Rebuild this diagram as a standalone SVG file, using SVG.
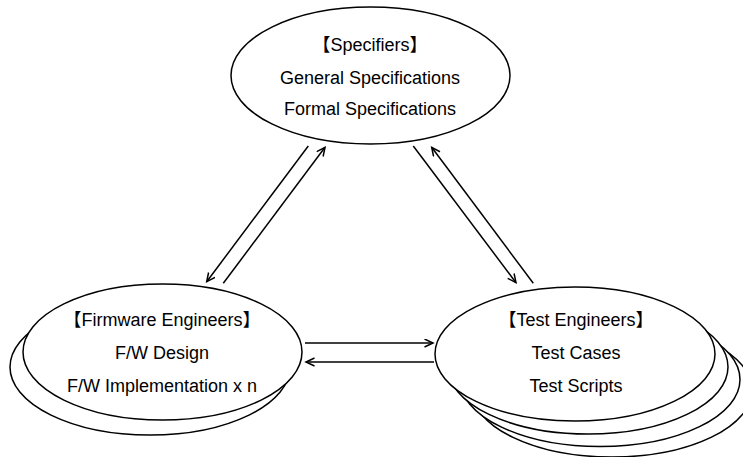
<svg xmlns="http://www.w3.org/2000/svg" width="743" height="457" viewBox="0 0 743 457">
  <style>
    .shape { fill: #ffffff; stroke: #000000; stroke-width: 1.5; }
    .label { font-family: "Liberation Sans", "Noto Sans CJK JP", Arial, sans-serif; font-size: 18px; fill: #000000; text-anchor: middle; }
    .link { fill: none; stroke: #000000; stroke-width: 1.5; marker-end: url(#open-arrow); }
  </style>
  <defs>
    <marker id="open-arrow" markerUnits="userSpaceOnUse" markerWidth="12" markerHeight="12" refX="9" refY="4.5" orient="auto">
      <path d="M0.5,0.5 L9,4.5 L0.5,8.5" fill="none" stroke="#000000" stroke-width="1.5" stroke-linejoin="miter"/>
    </marker>
  </defs>

  <rect width="743" height="457" fill="#ffffff"/>

  <!-- Specifiers -->
  <g id="specifiers">
    <ellipse class="shape" cx="370.5" cy="75.5" rx="139.5" ry="68.5"/>
    <text class="label" x="370" y="51">【Specifiers】</text>
    <text class="label" x="370" y="84">General Specifications</text>
    <text class="label" x="370" y="115">Formal Specifications</text>
  </g>

  <!-- Firmware engineers: stacked pair -->
  <g id="firmware-engineers">
    <ellipse class="shape" cx="150" cy="367" rx="140" ry="68"/>
    <ellipse class="shape" cx="162.5" cy="352" rx="139.5" ry="68"/>
    <text class="label" x="162" y="326">【Firmware Engineers】</text>
    <text class="label" x="162" y="359">F/W Design</text>
    <text class="label" x="162" y="392">F/W Implementation x n</text>
  </g>

  <!-- Test engineers: stacked group -->
  <g id="test-engineers">
    <ellipse class="shape" cx="612" cy="390" rx="140" ry="67"/>
    <ellipse class="shape" cx="600" cy="379.5" rx="140" ry="67"/>
    <ellipse class="shape" cx="588" cy="367" rx="140" ry="67"/>
    <ellipse class="shape" cx="575" cy="354" rx="140" ry="67"/>
    <text class="label" x="576" y="326">【Test Engineers】</text>
    <text class="label" x="576" y="359">Test Cases</text>
    <text class="label" x="576" y="392">Test Scripts</text>
  </g>

  <!-- Connectors -->
  <g id="connectors">
    <line class="link" x1="308.3" y1="146" x2="206.7" y2="281.7"/>
    <line class="link" x1="223.3" y1="283.3" x2="325" y2="147.3"/>
    <line class="link" x1="413.3" y1="146" x2="516" y2="282.7"/>
    <line class="link" x1="533.3" y1="283.3" x2="431.7" y2="147.3"/>
    <line class="link" x1="305" y1="343" x2="433" y2="343"/>
    <line class="link" x1="434" y1="362" x2="306" y2="362"/>
  </g>
</svg>
